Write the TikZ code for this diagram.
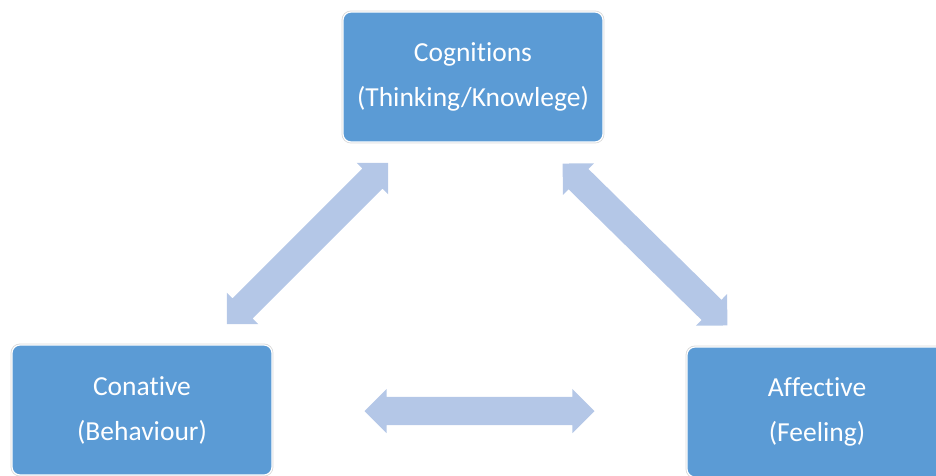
\documentclass[tikz,border=0pt]{standalone}
\usepackage{fontspec}
\setmainfont{Carlito}[Ligatures=NoCommon]
\usetikzlibrary{shapes.arrows,calc}
\definecolor{boxblue}{HTML}{5B9BD5}
\definecolor{arrowblue}{HTML}{B4C7E7}

\begin{document}
\begin{tikzpicture}[x=1pt,y=-1pt,
  comp/.style={draw=white,line width=1.2pt,fill=boxblue,rounded corners=8pt,
    text=white,font=\fontsize{27.5}{45}\selectfont,align=center,
    minimum width=260pt,minimum height=130pt,
    preaction={draw=black!15,line width=2.8pt}},
  link/.style={double arrow,fill=arrowblue,inner xsep=0pt,inner ysep=14pt,
    double arrow head extend=8pt,double arrow tip angle=90}]
\useasboundingbox (0,0) rectangle (936,475);
% the three components
\node[comp] (cog) at (473,77) {Cognitions\\(Thinking/Knowlege)};
\node[comp] (con) at (142,410) {Conative\\(Behaviour)};
\node[comp] (aff) at (817,412) {Affective\\(Feeling)};
% block arrows half way between them
\node[link,minimum height=228pt,rotate=45] (cogcon) at ($(cog)!0.5!(con)$) {};
\node[link,minimum height=231pt,rotate=-44.5] (cogaff) at ($(cog)!0.5!(aff)$) {};
\node[link,minimum height=230pt] (conaff) at ($(con)!0.5!(aff)$) {};
\end{tikzpicture}
\end{document}
